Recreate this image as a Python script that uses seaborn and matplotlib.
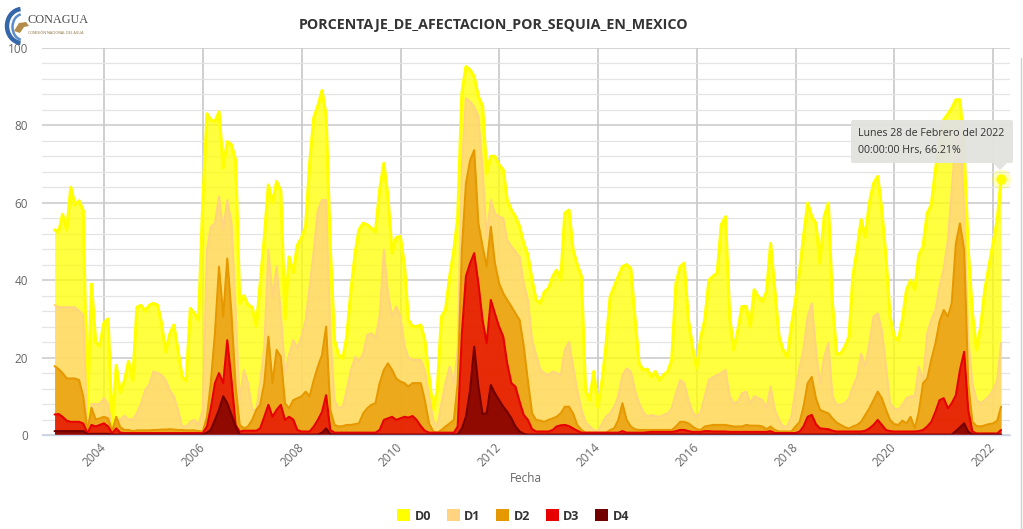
import numpy as np
import pandas as pd
import matplotlib
matplotlib.use("Agg")
import matplotlib.pyplot as plt
import matplotlib.dates as mdates
from matplotlib.patches import Patch, FancyBboxPatch, Arc, Polygon
from matplotlib.lines import Line2D
import seaborn as sns

# ---------------- data (monthly, % of territory, cumulative categories) ----------------
series_names = ["D0", "D1", "D2", "D3", "D4"]
series_colors = ["#FFFF00", "#FFD37F", "#E69800", "#E60000", "#730000"]
start_date = "2002-12-31"

d0 = [53, 52.5, 57, 53, 64, 59.5, 60.5, 58, 5, 39, 24, 23,
      29, 30, 2, 18, 11, 14, 19, 14, 33, 33.5, 32, 33.5,
      34, 33.5, 29, 21.5, 26, 28.4, 22, 15, 14, 32.7, 31.4, 29.7,
      60, 83, 81.4, 81, 83.5, 69, 75.8, 75, 71, 34, 36, 33.6,
      33, 28, 39, 51, 64.6, 60, 65.5, 63, 30, 46, 42, 49,
      50.9, 54, 70, 82, 85, 89, 82.5, 48, 24.5, 20.7, 19.8, 25.4,
      37.5, 47, 53, 54.7, 54.3, 53.4, 52.5, 63.3, 70.2, 61.6, 47, 51,
      51.3, 43.5, 29.7, 28, 28, 28.4, 24.5, 15, 6.5, 11.6, 30.6, 32.3,
      41, 47.8, 56, 88.3, 95.2, 94.3, 92.6, 87.4, 85, 67.6, 72, 72,
      69.8, 68.5, 60.7, 58.1, 56.4, 53.8, 49.5, 46.5, 40, 34.9, 34, 37,
      37.9, 41, 42.6, 40, 57.3, 58.1, 47.8, 44, 41, 11.6, 9, 16.4,
      7.3, 14.2, 22.8, 35.7, 38.3, 41, 43.5, 44, 43, 30.6, 18.5, 16.8,
      17, 15, 16.4, 14.2, 15.5, 16.4, 19.4, 39.2, 43.5, 44.4, 29.7, 22.8,
      17.2, 25.4, 29.7, 40, 41, 41.8, 54.3, 56.4, 30.6, 22, 27.1, 33.2,
      33.2, 28, 37.5, 35.7, 34.5, 37, 49.5, 37.5, 25.4, 22, 20, 28,
      34.9, 42.6, 51.2, 59.9, 56.4, 54.7, 44.4, 56.4, 59.9, 34, 21, 21,
      22.8, 25.4, 41, 47.8, 55.6, 51.2, 59.9, 65, 66.8, 58.1, 46, 30.6,
      25.4, 24.5, 29.7, 37.5, 40, 37.5, 46.5, 48.7, 57.3, 59.4, 68.5, 75.8,
      81.4, 83, 84.4, 86.6, 86.6, 73.6, 47.8, 31.4, 22, 28, 37.5, 43.5,
      49.5, 55.6, 66.21]

d1 = [33.6, 33, 33, 33, 33, 33, 32, 31, 1, 8, 8, 8,
      9.5, 8, 1, 4, 4, 5, 4, 4, 5.6, 8, 11.6, 13,
      16.4, 16, 15.5, 14.2, 11.6, 10, 6.5, 2.2, 2.2, 3.4, 3.9, 2.6,
      6.5, 47.8, 53.8, 54.7, 61.6, 53, 60.7, 54.7, 32.3, 9, 16.8, 13.4,
      6.5, 6.5, 13.4, 22.8, 47.8, 35.7, 43.5, 31.4, 16, 20.7, 24.5, 22.4,
      25.4, 29.7, 38.3, 47.8, 58.1, 60.7, 60.7, 26.3, 9, 6.9, 7.3, 11.6,
      16.8, 20.2, 19, 21, 25.8, 26.3, 25, 30.6, 47.8, 36.6, 30.6, 33.2,
      30.6, 23, 20, 19.4, 19.4, 19.4, 16.8, 10, 3.9, 2.2, 8.2, 13.4,
      17.7, 13.4, 22, 69.3, 87, 86.1, 84.8, 82.3, 68.5, 51.2, 60.7, 57.3,
      56.4, 56, 50.4, 48.7, 47.4, 46, 39.2, 34.9, 24.5, 20.7, 16.8, 16,
      15.5, 16.4, 16, 15.5, 22, 24.1, 17.7, 11.6, 6.5, 3.4, 2.2, 1.3,
      0.9, 3, 4.7, 5.6, 7.3, 10, 15.5, 17.2, 16.4, 11.6, 8.2, 6,
      4.7, 5.2, 4.9, 4.7, 5.2, 5.6, 6.9, 10.8, 14.2, 13.4, 9, 6,
      4.7, 6, 10, 14.2, 15, 15.5, 16, 16.8, 10, 8.2, 8.6, 10.8,
      11.2, 8.2, 10, 9.5, 9, 6.9, 12.5, 6.5, 3.9, 2.2, 2.2, 4.7,
      11.6, 17.7, 22, 30.6, 34, 22, 13.4, 20.2, 23.7, 10, 7.8, 7.8,
      8.2, 9.5, 12.5, 15, 21, 17.7, 23.7, 30.6, 31.4, 27.1, 17.7, 8.2,
      6.9, 6.5, 7.8, 9.5, 10, 10, 17.7, 14.2, 26.3, 29.7, 32.3, 38.3,
      43, 50.4, 63.3, 77, 80.5, 58.1, 25.4, 13.4, 9, 8.2, 9, 10,
      11.6, 14.2, 23.7]

d2 = [17.8, 17, 16, 14.6, 14.6, 14.6, 14.2, 10, 1, 7, 4, 4.3,
      4.7, 4.3, 1, 4.7, 2, 1.3, 1.3, 1, 1.2, 1.2, 1.2, 1.2,
      1.3, 1.3, 1.4, 1.4, 1.5, 1.4, 1.3, 1.3, 1.2, 1.2, 1.2, 1,
      0.9, 4.7, 13.4, 26.3, 43.5, 30.6, 45.6, 31.4, 12.5, 2.6, 1.7, 2.2,
      3.9, 6.5, 7.8, 13.4, 25.4, 13.4, 22, 20.2, 8.2, 6.9, 9, 9.5,
      10, 11.2, 10, 14.2, 17.7, 20.7, 28, 6.5, 2.6, 2.2, 2.3, 2.6,
      2.6, 2.8, 3, 5.6, 6.9, 7.8, 8.2, 13.4, 16.8, 18.5, 16.8, 14.6,
      13.8, 13.4, 12.5, 13.4, 13.4, 13.4, 9, 3, 0.9, 0.6, 1.3, 2.2,
      3, 3.9, 13.4, 47.8, 65, 71, 73.6, 54.7, 48.7, 43.5, 53.8, 44.4,
      39.2, 36.6, 34.9, 33.2, 31.4, 29.7, 23, 14, 5.6, 3.9, 3.7, 3.4,
      3.9, 4.3, 4.7, 5.6, 7.3, 7.3, 5.6, 2.6, 1.3, 0.6, 0.6, 0.6,
      0.6, 0.6, 0.6, 1.3, 1.7, 3.9, 8.2, 3.9, 2.2, 1.5, 1.3, 1.3,
      1.3, 1.3, 1.3, 1.3, 1.3, 1.3, 1.3, 2.2, 3.4, 3.4, 3, 2.2,
      1.5, 1.3, 2.2, 2.4, 2.6, 2.6, 2.6, 2.6, 2.4, 2.2, 2.2, 2.2,
      2.6, 2.4, 2.4, 2.4, 2.2, 1.5, 2.2, 1.3, 0.9, 0.9, 0.9, 0.9,
      2.2, 3.4, 7.3, 13.4, 15, 9.5, 6.5, 6, 5.6, 4.3, 3.2, 2.6,
      2, 1.7, 2.2, 2.6, 3.4, 5.2, 6.9, 9, 11.2, 9.5, 6.5, 3.9,
      2.8, 2.6, 3.7, 3, 4.7, 1.7, 6, 13.4, 14.6, 19.4, 23.7, 29.3,
      32.3, 30.6, 34, 49.5, 54.7, 47.8, 13.4, 3.4, 2.3, 2.2, 2.5, 2.8,
      3, 3.7, 7.3]

d3 = [5.3, 5.4, 4.7, 3.7, 3.4, 3.4, 3.4, 3, 0.4, 2.6, 2.2, 2.6,
      3, 2.2, 0.4, 1.7, 0.6, 0.5, 0.5, 0.5, 0.5, 0.5, 0.5, 0.5,
      0.5, 0.5, 0.5, 0.5, 0.5, 0.5, 0.5, 0.5, 0.5, 0.5, 0.5, 0.5,
      0.5, 2.2, 6.9, 13.4, 16, 13.4, 24.5, 14.2, 2.6, 0.9, 1.1, 1.1,
      1.1, 1.1, 1.7, 4.7, 7.8, 4.7, 6.5, 7.8, 3.9, 4.7, 4, 1.3,
      0.9, 0.9, 0.9, 2.2, 3.9, 6, 10.3, 1.3, 0.6, 0.6, 0.6, 0.6,
      0.6, 0.6, 0.6, 0.6, 0.6, 0.6, 0.6, 1.3, 3.9, 4.3, 4.7, 3.9,
      4.3, 4.7, 4.5, 4.9, 3.9, 2.3, 1.1, 0.6, 0.6, 0.6, 0.6, 0.6,
      0.6, 0.6, 2.2, 26.3, 41, 44.4, 47, 39.2, 29.7, 23.7, 34.9, 31.4,
      28, 25.4, 18.5, 13.4, 12.5, 8.6, 5.2, 3.9, 1.5, 0.9, 0.9, 0.9,
      0.9, 1.3, 2.2, 2.5, 2.6, 2.3, 1.7, 1.1, 0.6, 0.6, 0.6, 0.6,
      0.6, 0.6, 0.6, 0.6, 0.6, 0.6, 1.0, 0.6, 0.6, 0.6, 0.6, 0.6,
      0.7, 0.8, 0.8, 0.8, 0.8, 0.8, 0.8, 1.0, 1.3, 1.3, 1.0, 0.8,
      0.8, 0.8, 1.0, 1.0, 0.9, 0.9, 0.9, 0.9, 0.8, 0.8, 0.8, 0.8,
      0.8, 0.8, 0.8, 0.8, 0.8, 0.8, 1.0, 0.5, 0.5, 0.5, 0.5, 0.5,
      0.5, 0.9, 2.2, 4.7, 5.2, 2.8, 1.7, 1.6, 1.5, 1.1, 0.9, 0.9,
      0.9, 0.9, 0.9, 0.9, 0.9, 1.1, 1.7, 2.6, 3.9, 2.6, 1.3, 1.0,
      0.9, 0.9, 0.9, 0.9, 0.9, 0.9, 1.0, 1.3, 2.2, 3.4, 6, 9,
      9.5, 6.9, 8.2, 10.3, 16.8, 21.5, 6.5, 0.9, 0.4, 0.4, 0.4, 0.4,
      0.4, 0.4, 1.3]

d4 = [1.0, 1.0, 1.0, 1.0, 1.0, 1.0, 1.0, 1.0, 0.2, 0.3, 0.3, 0.3,
      0.3, 0.3, 0.1, 0.1, 0.1, 0.1, 0.1, 0.1, 0.1, 0.1, 0.1, 0.1,
      0.1, 0.1, 0.1, 0.1, 0.1, 0.1, 0.1, 0.1, 0.1, 0.1, 0.1, 0.1,
      0.1, 0.6, 1.3, 3.9, 6.5, 10, 8.2, 5.2, 2.2, 0.1, 0.1, 0.1,
      0.1, 0.1, 0.1, 0.1, 0.1, 0.1, 0.1, 0.1, 0.1, 0.1, 0.1, 0.1,
      0.1, 0.1, 0.1, 0.1, 0.1, 0.6, 1.7, 0.2, 0.1, 0.1, 0.1, 0.1,
      0.1, 0.1, 0.1, 0.1, 0.1, 0.1, 0.1, 0.1, 0.1, 0.1, 0.1, 0.1,
      0.1, 0.1, 0.1, 0.1, 0.1, 0.1, 0.1, 0.1, 0.1, 0.1, 0.1, 0.1,
      0.1, 0.1, 0.1, 1.7, 4.7, 11.6, 22.8, 12.5, 5.4, 5.6, 12.9, 10.8,
      9, 7.3, 6, 4.3, 2.2, 0.9, 0.3, 0.1, 0.1, 0.1, 0.1, 0.1,
      0.1, 0.1, 0.1, 0.1, 0.1, 0.1, 0.1, 0.1, 0.1, 0.1, 0.1, 0.1,
      0.1, 0.1, 0.1, 0.1, 0.1, 0.1, 0.1, 0.1, 0.1, 0.1, 0.1, 0.1,
      0.1, 0.1, 0.1, 0.1, 0.1, 0.1, 0.1, 0.1, 0.1, 0.1, 0.1, 0.1,
      0.1, 0.1, 0.1, 0.1, 0.1, 0.1, 0.1, 0.1, 0.1, 0.1, 0.1, 0.1,
      0.1, 0.1, 0.1, 0.1, 0.1, 0.1, 0.1, 0.1, 0.1, 0.1, 0.1, 0.1,
      0.1, 0.1, 0.1, 0.1, 0.1, 0.1, 0.1, 0.1, 0.1, 0.1, 0.1, 0.1,
      0.1, 0.1, 0.1, 0.1, 0.1, 0.1, 0.1, 0.1, 0.1, 0.1, 0.1, 0.1,
      0.1, 0.1, 0.1, 0.1, 0.1, 0.1, 0.1, 0.1, 0.1, 0.1, 0.1, 0.1,
      0.1, 0.1, 0.1, 1.0, 2.0, 3.0, 0.8, 0.1, 0.1, 0.1, 0.1, 0.1,
      0.1, 0.1, 0.1]

title = "PORCENTAJE_DE_AFECTACION_POR_SEQUIA_EN_MEXICO"
tooltip_lines = ["Lunes 28 de Febrero del 2022", "00:00:00 Hrs, 66.21%"]

# ---------------- build frame ----------------
try:
    dates = pd.date_range(start_date, periods=len(d0), freq="ME")
except Exception:
    dates = pd.date_range(start_date, periods=len(d0), freq="M")
values = [d0, d1, d2, d3, d4]
df = pd.DataFrame({
    "Fecha": np.tile(dates, len(series_names)),
    "valor": np.concatenate([np.asarray(v, float) for v in values]),
    "serie": np.repeat(series_names, len(d0)),
})

# ---------------- style ----------------
sns.set_style("white")
plt.rcParams["font.family"] = ["Open Sans", "DejaVu Sans"]

W, H = 1023, 529
fig = plt.figure(figsize=(W / 100, H / 100), dpi=100)
ax_l, ax_r, ax_t, ax_b = 42, 1010, 48, 435
ax = fig.add_axes([ax_l / W, 1 - ax_b / H, (ax_r - ax_l) / W, (ax_b - ax_t) / H])

line_w = {"D0": 2.3, "D1": 1.5, "D2": 1.5, "D3": 1.5, "D4": 1.5}
for k, (name, col) in enumerate(zip(series_names, series_colors)):
    sub = df[df["serie"] == name]
    ax.fill_between(sub["Fecha"], 0, sub["valor"], color=col, alpha=0.75,
                    linewidth=0, zorder=2 + k)
    sns.lineplot(data=sub, x="Fecha", y="valor", color=col,
                 linewidth=line_w[name], ax=ax, zorder=2.5 + k, legend=False)

# last point highlight
last = df[df["serie"] == "D0"].iloc[-1]
ax.scatter([last["Fecha"]], [last["valor"]], s=190, color="#FFFF00", alpha=0.25,
           zorder=20, linewidths=0, clip_on=False)
ax.scatter([last["Fecha"]], [last["valor"]], s=55, color="#FFFF00",
           zorder=21, linewidths=0, clip_on=False)

# axes limits / ticks
ax.set_ylim(0, 100)
ax.set_xlim(pd.Timestamp("2002-09-29"), pd.Timestamp("2022-05-05"))
ax.set_yticks(np.arange(0, 101, 20))
ax.set_yticks(np.arange(0, 101, 4), minor=True)
ax.xaxis.set_major_locator(mdates.YearLocator(base=2, month=1, day=1))
ax.xaxis.set_major_formatter(mdates.DateFormatter("%Y"))

ax.grid(True, which="major", axis="y", color="#c9c9c9", linewidth=1.1, zorder=0)
ax.grid(True, which="minor", axis="y", color="#e4e4e4", linewidth=0.9, zorder=0)
ax.grid(True, which="major", axis="x", color="#cfcfcf", linewidth=1.4, zorder=0)
ax.set_axisbelow(True)

for s in ["top", "right", "left"]:
    ax.spines[s].set_visible(False)
ax.spines["bottom"].set_color("#ccd6eb")
ax.spines["bottom"].set_linewidth(1.0)
ax.spines["bottom"].set_zorder(30)

ax.tick_params(axis="y", which="both", length=0, pad=10, labelsize=8.5,
               labelcolor="#666666")
ax.tick_params(axis="x", which="major", length=4.5, width=1, color="#ccd6eb",
               pad=3, labelsize=8.5, labelcolor="#666666")
ax.tick_params(axis="x", which="minor", length=0)
for lab in ax.get_xticklabels():
    lab.set_rotation(45)
    lab.set_ha("right")
    lab.set_va("center")
    lab.set_rotation_mode("anchor")

ax.set_ylabel("")
ax.set_xlabel("Fecha", fontsize=8.5, color="#666666")
ax.xaxis.set_label_coords(0.5, -0.095)

# title
fig.text(494 / W, 1 - 25 / H, title, ha="center", va="center",
         fontsize=10.3, fontweight="bold", color="#333333")

# legend
handles = [Patch(facecolor=c, edgecolor="none") for c in series_colors]
leg = fig.legend(handles, series_names, loc="center", ncol=5,
                 bbox_to_anchor=(513 / W, 1 - 516 / H), frameon=False,
                 handlelength=1.05, handleheight=1.05, handletextpad=0.35,
                 columnspacing=1.25, prop={"weight": "bold", "size": 9})
for t in leg.get_texts():
    t.set_color("#333333")

# ---------------- overlay: logo, tooltip, border ----------------
ov = fig.add_axes([0, 0, 1, 1], facecolor="none")
ov.set_xlim(0, W)
ov.set_ylim(H, 0)
ov.axis("off")

# tooltip
ov.add_patch(FancyBboxPatch((851, 120), 162, 43, boxstyle="round,pad=0,rounding_size=2",
                            facecolor="#e2e2df", edgecolor="none", alpha=0.95, zorder=5))
ov.add_patch(Polygon([[993, 163], [1007, 163], [1000, 170]], closed=True,
                     facecolor="#e2e2df", edgecolor="none", alpha=0.95, zorder=5))
ov.text(858, 134, tooltip_lines[0], fontsize=7.7, color="#333333", va="center", zorder=6)
ov.text(858, 150, tooltip_lines[1], fontsize=7.7, color="#333333", va="center", zorder=6)

# logo
ov.add_patch(Arc((22, 26), 30, 34, theta1=95, theta2=265, color="#3566a8", lw=3.2))
ov.add_patch(Arc((23, 27), 21, 26, theta1=100, theta2=260, color="#5b8ccc", lw=1.8))
ov.add_patch(Polygon([[14, 31], [19, 23], [26, 22], [29, 26], [24, 27], [20, 33]],
                     closed=True, facecolor="#b38b4a", edgecolor="none"))
ov.text(28, 20, "CONAGUA", fontsize=8.8, family=["Liberation Serif", "DejaVu Serif"],
        color="#4d4d4d", va="center", ha="left")
ov.text(28, 33, "COMISIÓN NACIONAL DEL AGUA", fontsize=2.6, color="#8a6a3a",
        va="center", ha="left")

# right border line
ov.add_line(Line2D([1021, 1021], [58, 529], color="#d0d0d0", lw=1.0))

fig.savefig("out.png", dpi=100, facecolor="white")
